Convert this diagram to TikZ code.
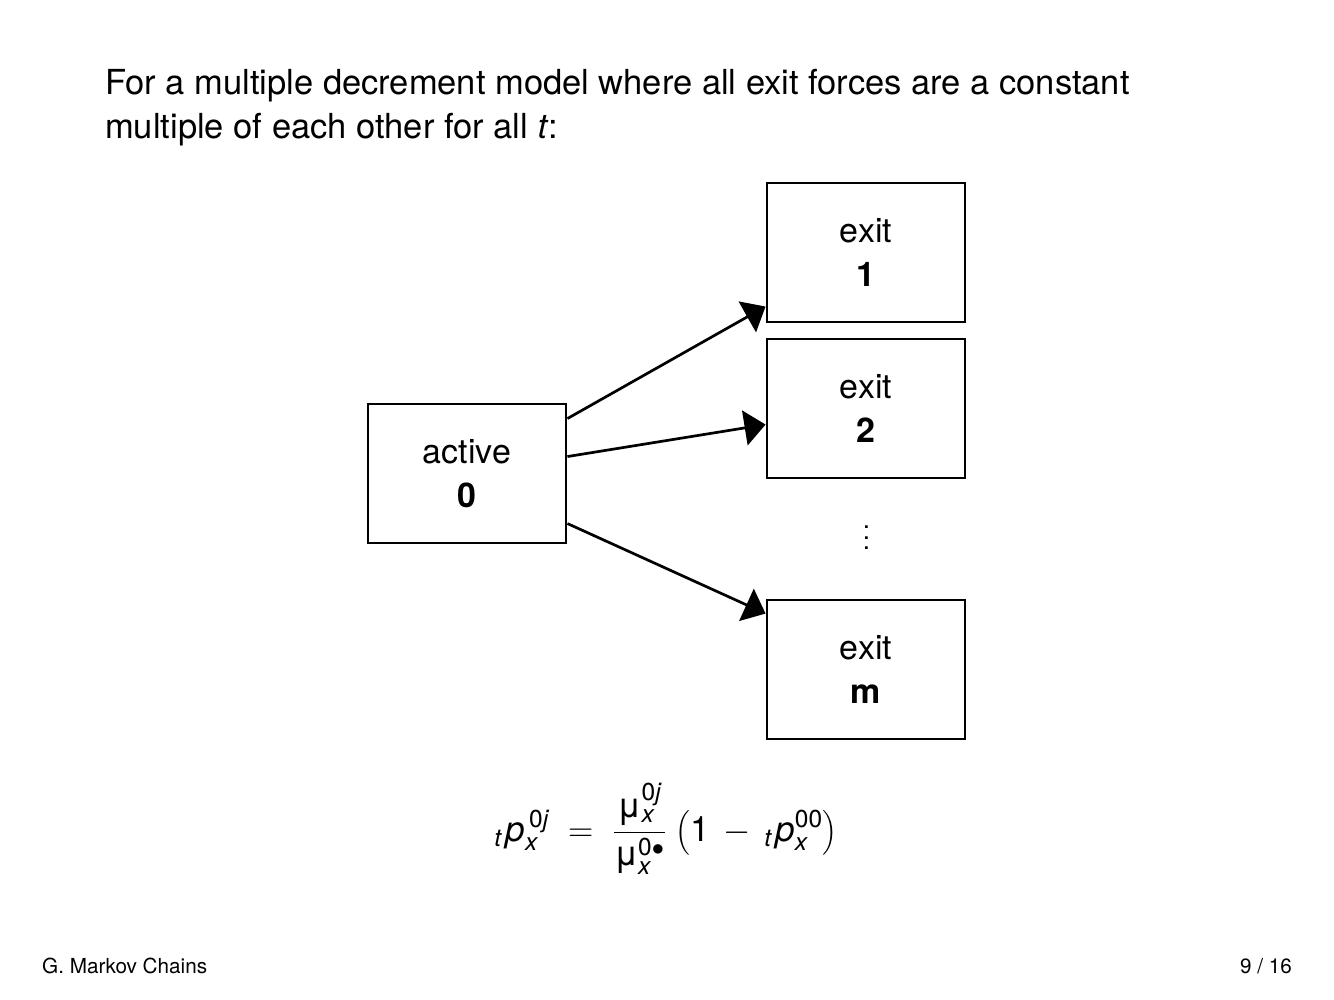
\RequirePackage{fix-cm}
\documentclass[tikz,border=0pt]{standalone}
\usepackage{amsmath}
\usepackage{graphicx}
\usepackage{fontspec}
\setmainfont{TeX Gyre Heros}
\usetikzlibrary{arrows.meta}
\newcommand{\mi}[1]{\text{\itshape #1}}
\newcommand{\mr}[1]{\text{#1}}
\tikzset{
  statebox/.style={draw=black, line width=2.9pt, minimum width=198pt, minimum height=139pt,
    align=center, inner sep=0pt, font=\fontsize{34}{44}\selectfont},
  flow/.style={line width=2.7pt, -{Triangle[length=21pt,width=35pt]}},
  txt/.style={inner sep=0pt, font=\fontsize{34.5}{44}\selectfont},
  foot/.style={inner sep=0pt, font=\fontsize{20.7}{24}\selectfont}
}
\begin{document}
\begin{tikzpicture}[x=1pt,y=-1pt]
\useasboundingbox (0,0) rectangle (1334,1000);
\node[txt, anchor=base west] (title1) at (105,95) {For a multiple decrement model where all exit forces are a constant};
\node[txt, anchor=base west] (title2) at (105,139) {multiple of each other for all \textit{t}:};

\node[statebox] (a) at (467,473.5) {active\\\textbf{0}};
\node[statebox] (e1) at (866,252.5) {exit\\\textbf{1}};
\node[statebox] (e2) at (866,408.5) {exit\\\textbf{2}};
\node[statebox] (em) at (866,669.5) {exit\\\textbf{m}};
\node[inner sep=0pt] (dots) at (866.5,530) {\scalebox{2.6}{$\vdots$}};

\draw[flow] ([yshift=-16pt]a.north east) -- ([yshift=-125pt]e1.north west);
\draw[flow] ([yshift=-54pt]a.north east) -- ([yshift=-87pt]e2.north west);
\draw[flow] ([yshift=-121pt]a.north east) -- ([yshift=-15pt]em.north west);

\node[inner sep=0pt, font=\fontsize{35}{44}\selectfont] (eq) at (666,829)
 {$\displaystyle {}_{\mi t}\mkern2mu\mi{p}^{\,\mr{0}\mi{j}}_{\mi x} \;=\; \frac{\mr{μ}^{\mr{0}\mi{j}}_{\mi x}}{\mr{μ}^{\mr{0}\bullet}_{\mi x}}\;\bigl(\mr{1} \,-\, {}_{\mi t}\mkern2mu\mi{p}^{\mr{00}}_{\mi x}\bigr)$};

\node[foot, anchor=base west] (f1) at (42,973) {G. Markov Chains};
\node[foot, anchor=base east] (f2) at (1292,973) {9 / 16};
\end{tikzpicture}
\end{document}
